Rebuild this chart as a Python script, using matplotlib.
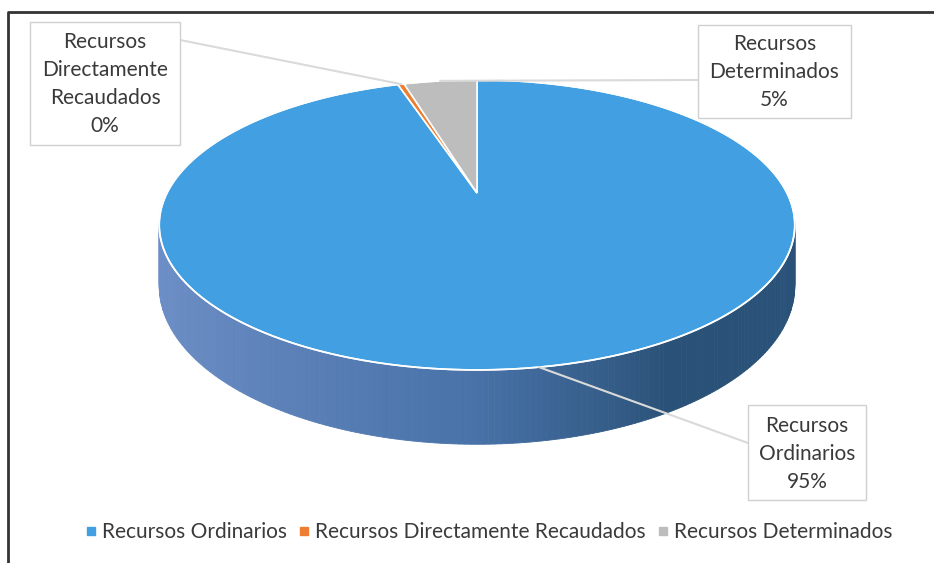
import numpy as np
import matplotlib.pyplot as plt
from matplotlib.patches import Polygon, Rectangle
from matplotlib.lines import Line2D
from matplotlib.colors import to_rgb

# Datos
categorias = ['Recursos Ordinarios', 'Recursos Directamente Recaudados', 'Recursos Determinados']
valores = [95.0, 0.4, 4.6]
etiquetas = ['Recursos\nOrdinarios', 'Recursos\nDirectamente\nRecaudados', 'Recursos\nDeterminados']
colores = ['#42a0e2', '#ed7d31', '#bdbdbd']

plt.rcParams['font.family'] = ['Lato', 'DejaVu Sans']

fig = plt.figure(figsize=(9.34, 5.63), dpi=100)
ax = fig.add_axes([0, 0, 1, 1])
ax.set_xlim(0, 934)
ax.set_ylim(563, 0)
ax.axis('off')

# Geometría del pastel 3D (perspectiva simple)
cx, cy = 477, 193
A, B, k = 138, 310, 0.22
H = 58

def proyectar(f):
    t = np.radians(90 - 360 * f)
    X, Z = np.cos(t), np.sin(t)
    d = 1 + k * Z
    return cx + B * X / d, cy - A * Z / d, X, Z, d

fr = np.array(valores) / sum(valores)
lims = np.concatenate([[0], np.cumsum(fr)])

# Lateral (solo la porción azul queda visible)
claro = np.array(to_rgb('#6f90c8'))
medio = np.array(to_rgb('#4872a8'))
oscuro = np.array(to_rgb('#2a5278'))
fs = np.linspace(lims[0], lims[1], 400)
quads = []
for a, b in zip(fs[:-1], fs[1:]):
    x1, y1, X1, Z1, d1 = proyectar(a)
    x2, y2, X2, Z2, d2 = proyectar(b)
    Xm = (X1 + X2) / 2
    if Xm < 0:
        c = medio + (claro - medio) * (-Xm)
    else:
        c = medio + (oscuro - medio) * min(Xm / 0.5, 1)
    quads.append(((Z1 + Z2) / 2, [(x1, y1), (x2, y2), (x2, y2 + H / d2), (x1, y1 + H / d1)], c))
for _, pts, c in sorted(quads, key=lambda q: -q[0]):
    ax.add_patch(Polygon(pts, closed=True, facecolor=c, edgecolor=c, lw=0.6))

# Cara superior
for i in range(len(valores)):
    ff = np.linspace(lims[i], lims[i + 1], max(3, int(fr[i] * 400)))
    pts = [(cx, cy)] + [proyectar(f)[:2] for f in ff]
    ax.add_patch(Polygon(pts, closed=True, facecolor=colores[i], edgecolor='white', lw=1.2))

borde = [proyectar(f)[:2] for f in np.linspace(0, 1, 500)]
ax.plot([p[0] for p in borde], [p[1] for p in borde], color='white', lw=1.2)

# Etiquetas con cajas
cajas = [(30, 22, 150, 123), (698, 25, 153, 93)]
cajas = [(748, 405, 118, 95)] + cajas
anclas = [(748, 443), (180, 40), (698, 80)]
for i in range(len(valores)):
    mx, my = proyectar((lims[i] + lims[i + 1]) / 2)[:2]
    ax.plot([mx, anclas[i][0]], [my, anclas[i][1]], color='#dadada', lw=1.5, zorder=5)
    x0, y0, w, h = cajas[i]
    ax.add_patch(Rectangle((x0, y0), w, h, facecolor='white', edgecolor='#d0d0d0', lw=1, zorder=6))
    txt = etiquetas[i] + '\n' + f'{valores[i] / sum(valores) * 100:.0f}%'
    ax.text(x0 + w / 2, y0 + h / 2 + 1, txt, ha='center', va='center', fontsize=15,
            color='#3a3a3a', linespacing=1.5, zorder=7)

# Marco
ax.plot([8, 8, 934], [563, 12, 12], color='#333333', lw=2)

# Leyenda
handles = [Line2D([], [], marker='s', ls='none', markersize=5.5, markerfacecolor=c,
                  markeredgecolor=c) for c in colores]
ax.legend(handles, categorias, loc='center', bbox_to_anchor=(488 / 934, 1 - 532 / 563),
          ncol=3, frameon=False, fontsize=15, handletextpad=0.15, columnspacing=0.5,
          labelcolor='#3a3a3a', handlelength=0.7)

plt.savefig('out.png', dpi=100)
